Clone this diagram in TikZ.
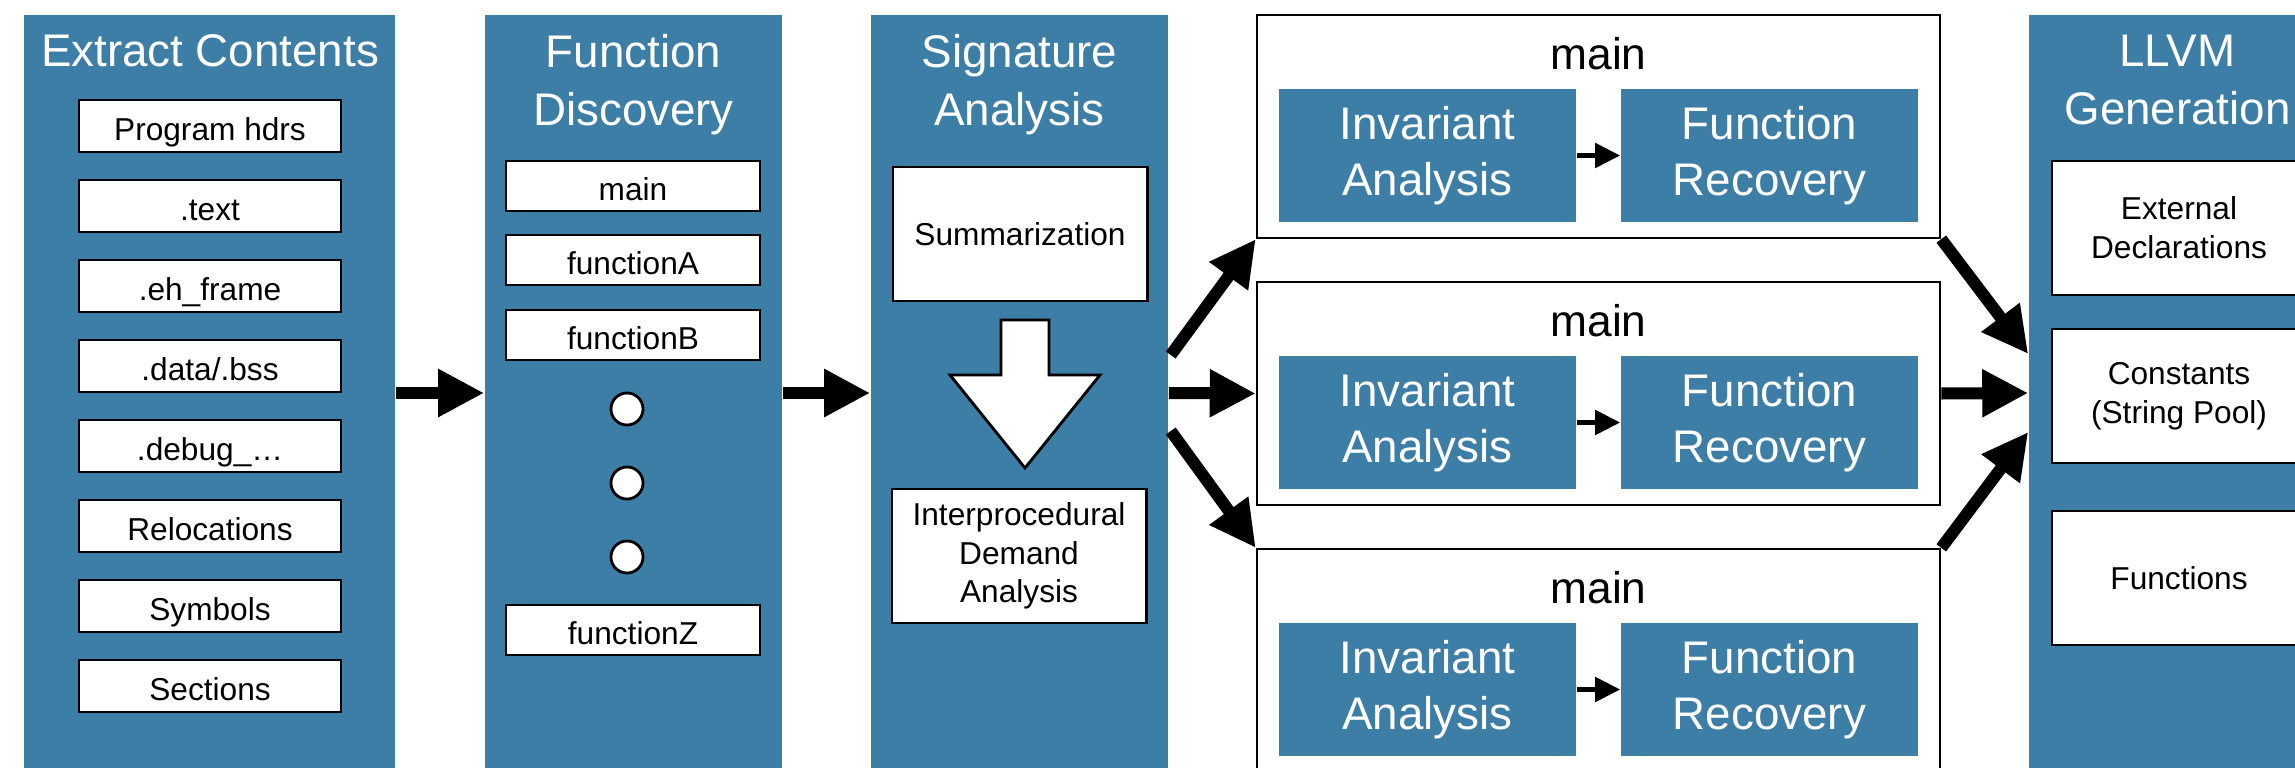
\documentclass[tikz,border=0pt]{standalone}
\usepackage{xcolor}
\usepackage{fontspec}
\setmainfont{Liberation Sans}
\definecolor{mstage}{HTML}{3D7EA6}
\usepackage{tikz}
\usetikzlibrary{calc,arrows.meta}

\tikzset{
  stage/.style={fill=mstage, draw=none, minimum width=2.97cm, minimum height=7.56cm, inner sep=0pt},
  stagename/.style={text=white, anchor=north, inner sep=0pt, align=center, font=\fontsize{13}{16.5}\selectfont},
  box/.style={draw, fill=white, line width=0.8pt, inner sep=0pt, align=center, font=\fontsize{9}{11}\selectfont},
  sect/.style={box, minimum width=2.62cm, minimum height=0.52cm, text height=8.4pt, text depth=0pt},
  func/.style={box, minimum width=2.54cm, minimum height=0.5cm, text height=8.4pt, text depth=0pt},
  part/.style={box, minimum width=2.54cm, minimum height=1.34cm},
  fbox/.style={draw, fill=white, line width=0.6pt, minimum width=6.83cm, minimum height=2.23cm, inner sep=0pt},
  pass/.style={fill=mstage, text=white, minimum width=2.97cm, minimum height=1.33cm, inner sep=0pt, align=center, font=\fontsize{13}{16}\selectfont},
  flow/.style={-{Triangle[length=0.46cm,width=0.45cm]}, line width=0.12cm},
  hop/.style={-{Triangle[length=0.25cm,width=0.24cm]}, line width=1.4pt},
  dot/.style={circle, draw, fill=white, line width=0.8pt, minimum size=0.32cm, inner sep=0pt}
}

\begin{document}
\begin{tikzpicture}[x=0.01cm, y=-0.01cm]
  \useasboundingbox (0,0) rectangle (2295,767);
  \clip (0,0) rectangle (2295,767);
  \fill[white] (0,0) rectangle (2295,767);

  \node[stage, minimum width=3.71cm] (extract) at (209.5,393) {};
  \node[stagename] (extracttitle) at (210,34) {Extract Contents};
  \node[sect] (phdrs) at (210,126) {Program hdrs};
  \node[sect] (text) at (210,206) {.text};
  \node[sect] (ehframe) at (210,286) {.eh\_frame};
  \node[sect] (data) at (210,366) {.data/.bss};
  \node[sect] (debug) at (210,446) {.debug\_\ldots};
  \node[sect] (relocs) at (210,526) {Relocations};
  \node[sect] (syms) at (210,606) {Symbols};
  \node[sect] (sects) at (210,686) {Sections};

  \node[stage] (discovery) at (633.5,393) {};
  \node[stagename] (discoverytitle) at (633.5,34) {Function\\Discovery};
  \node[func] (fmain) at (633,186) {main};
  \node[func] (fa) at (633,260) {functionA};
  \node[func] (fb) at (633,335) {functionB};
  \node[dot] (dot1) at (627,409) {};
  \node[dot] (dot2) at (627,483) {};
  \node[dot] (dot3) at (627,557) {};
  \node[func] (fz) at (633,630) {functionZ};

  \node[stage] (sig) at (1019.5,393) {};
  \node[stagename] (sigtitle) at (1019.5,34) {Signature\\Analysis};
  \node[part] (summ) at (1020,234) {Summarization};
  \node[part] (demand) at (1019,556) {Interprocedural\\Demand\\Analysis};
  \draw[line width=0.8pt, fill=white] (1001,320) -- (1049,320) -- (1049,375) -- (1100,375)
    -- (1025,468) -- (950,375) -- (1001,375) -- cycle;

  \node[fbox] (main1) at (1598.5,126.5) {};
  \node[fbox] (main2) at (1598.5,393.5) {};
  \node[fbox] (main3) at (1598.5,660.5) {};
  \node[font=\fontsize{12.6}{15}\selectfont] (name1) at ($(main1.north)+(0,40)$) {main};
  \node[font=\fontsize{12.6}{15}\selectfont] (name2) at ($(main2.north)+(0,40)$) {main};
  \node[font=\fontsize{12.6}{15}\selectfont] (name3) at ($(main3.north)+(0,40)$) {main};
  \node[pass] (inv1) at ($(main1.center)+(-171,29)$) {Invariant\\Analysis};
  \node[pass] (rec1) at ($(main1.center)+(171,29)$) {Function\\Recovery};
  \node[pass] (inv2) at ($(main2.center)+(-171,29)$) {Invariant\\Analysis};
  \node[pass] (rec2) at ($(main2.center)+(171,29)$) {Function\\Recovery};
  \node[pass] (inv3) at ($(main3.center)+(-171,29)$) {Invariant\\Analysis};
  \node[pass] (rec3) at ($(main3.center)+(171,29)$) {Function\\Recovery};
  \draw[hop] (inv1) -- (rec1);
  \draw[hop] (inv2) -- (rec2);
  \draw[hop] (inv3) -- (rec3);

  \node[stage] (llvm) at (2177.5,393) {};
  \node[stagename] (llvmtitle) at (2177.5,34) {LLVM\\Generation};
  \node[part] (extdecl) at (2179,228) {External\\Declarations};
  \node[part] (consts) at (2179,396) {Constants\\(String Pool)};
  \node[part] (funcs) at (2179,578) {Functions};

  \draw[flow] (extract) -- (discovery);
  \draw[flow] (discovery) -- (sig);
  \draw[flow] ($(sig.east)+(2,-38)$) -- (main1.south west);
  \draw[flow] (sig.east) -- (main2.west);
  \draw[flow] ($(sig.east)+(2,38)$) -- (main3.north west);
  \draw[flow] (main1.south east) -- ($(llvm.west)+(0,-39)$);
  \draw[flow] (main2.east) -- (llvm.west);
  \draw[flow] (main3.north east) -- ($(llvm.west)+(0,39)$);
\end{tikzpicture}
\end{document}
